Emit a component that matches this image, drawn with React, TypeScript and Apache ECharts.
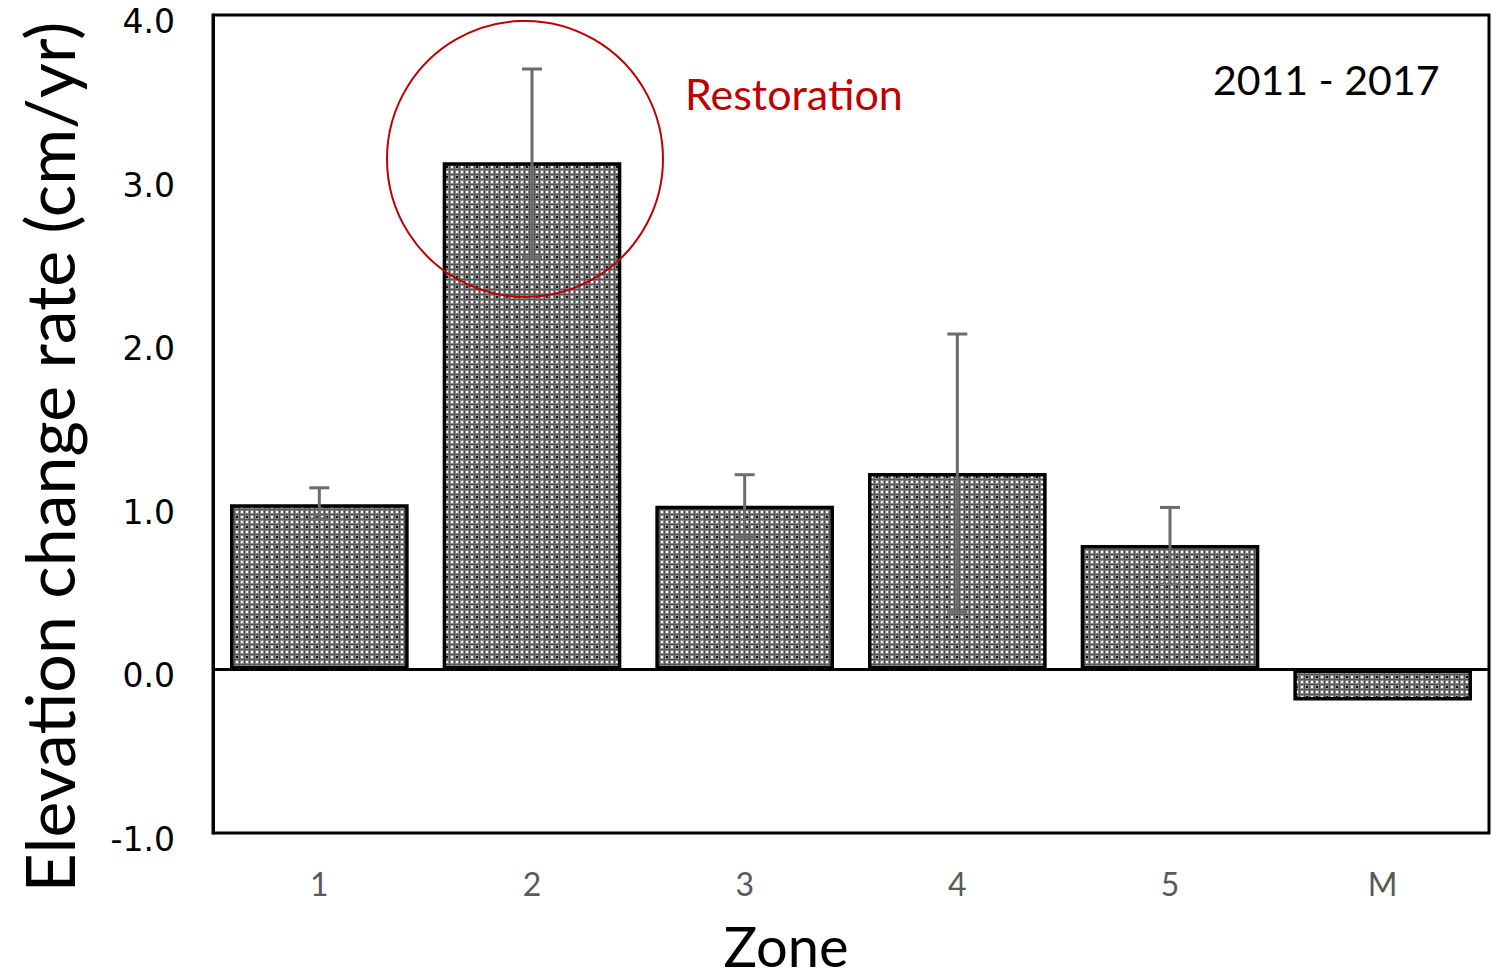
import React, { useEffect, useRef } from "react";
import * as echarts from "echarts";

const zones = ["1", "2", "3", "4", "5", "M"];
const rates = [1.01, 3.1, 1.0, 1.2, 0.76, -0.19];
const errLow: (number | null)[] = [0.92, 2.52, 0.81, 0.35, 0.52, null];
const errHigh: (number | null)[] = [1.11, 3.67, 1.19, 2.05, 0.99, null];
const yMin = -1;
const yMax = 4;
const yInterval = 1;
const circleAnchor = { zone: "2", value: 3.12 };
const yTitle = "Elevation change rate (cm/yr)";
const xTitle = "Zone";
const annotationText = "Restoration";
const periodText = "2011 - 2017";

function makePattern(): HTMLCanvasElement {
  const c = document.createElement("canvas");
  c.width = 10;
  c.height = 10;
  const ctx = c.getContext("2d")!;
  ctx.fillStyle = "#8a8a8a";
  ctx.fillRect(0, 0, 10, 10);
  for (const cy of [0, 5]) {
    for (const cx of [0, 5]) {
      const black = cx === 5 && cy === 5;
      ctx.fillStyle = "#555555";
      ctx.fillRect(cx + 4, cy, 1, 5);
      ctx.fillRect(cx, cy + 4, 5, 1);
      ctx.fillStyle = black ? "#0a0a0a" : "#ffffff";
      ctx.fillRect(cx + 1, cy + 1, 2, 2);
    }
  }
  return c;
}

export default function App() {
  const ref = useRef<HTMLDivElement>(null);
  useEffect(() => {
    document.body.style.margin = "0";
    const chart = echarts.init(ref.current!, null, { renderer: "svg" });
    const pattern = makePattern();
    const errData = zones.map((z, i) => [i, errLow[i], errHigh[i]]);
    chart.setOption({
      animation: false,
      backgroundColor: "#ffffff",
      grid: {
        left: 213,
        top: 15,
        right: 2,
        bottom: 146,
        show: true,
        borderColor: "#000000",
        borderWidth: 3,
        backgroundColor: "transparent",
      },
      xAxis: {
        type: "category",
        data: zones,
        axisLine: { show: false, onZero: false },
        axisTick: { show: false },
        axisLabel: {
          margin: 34,
          color: "#595959",
          fontFamily: "Lato",
          fontSize: 32,
        },
        splitLine: { show: false },
      },
      yAxis: {
        type: "value",
        min: yMin,
        max: yMax,
        interval: yInterval,
        axisLine: { show: true, lineStyle: { color: "#000", width: 3 } },
        axisTick: { show: false },
        splitLine: { show: false },
        axisLabel: {
          margin: 38,
          color: "#000000",
          fontFamily: "DejaVu Sans",
          fontSize: 33,
          formatter: (v: number) => `{v|${v.toFixed(1)}}`,
          rich: {
            v: {
              fontFamily: "DejaVu Sans",
              fontSize: 33,
              color: "#000000",
              padding: [13, 0, 0, 0],
            },
          },
        },
      },
      series: [
        {
          type: "bar",
          data: rates,
          barWidth: "84%",
          itemStyle: {
            color: { image: pattern, repeat: "repeat" },
            borderColor: "#000000",
            borderWidth: 3.5,
          },
          markLine: {
            silent: true,
            symbol: ["none", "none"],
            label: { show: false },
            lineStyle: { color: "#000000", width: 3, type: "solid" },
            data: [{ yAxis: 0 }],
          },
          z: 2,
        },
        {
          type: "custom",
          data: errData,
          z: 5,
          renderItem: (params: any, api: any) => {
            const lo = api.value(1);
            const hi = api.value(2);
            if (lo == null || hi == null || isNaN(lo) || isNaN(hi)) return null;
            const pLo = api.coord([api.value(0), lo]);
            const pHi = api.coord([api.value(0), hi]);
            const x = pLo[0];
            const hw = 10;
            const style = { stroke: "#6b6b6b", lineWidth: 3 };
            return {
              type: "group",
              children: [
                { type: "line", shape: { x1: x, y1: pLo[1], x2: x, y2: pHi[1] }, style },
                { type: "line", shape: { x1: x - hw, y1: pHi[1], x2: x + hw, y2: pHi[1] }, style },
                { type: "line", shape: { x1: x - hw, y1: pLo[1], x2: x + hw, y2: pLo[1] }, style },
              ],
            };
          },
        },
      ],
    });
    const center = chart.convertToPixel({ seriesIndex: 0 }, [circleAnchor.zone, circleAnchor.value]) as number[];
    chart.setOption({
      graphic: [
        {
          type: "circle",
          shape: { cx: center[0] - 7, cy: center[1], r: 138 },
          style: { fill: "none", stroke: "#c00000", lineWidth: 2 },
          z: 10,
          silent: true,
        },
        {
          type: "text",
          left: 685,
          top: 72,
          style: { text: annotationText, fill: "#c00000", font: "43px Lato" },
          z: 10,
        },
        {
          type: "text",
          left: 1213,
          top: 59,
          style: { text: periodText, fill: "#000000", font: "41px Lato" },
          z: 10,
        },
        {
          type: "text",
          x: 48,
          y: 457,
          rotation: Math.PI / 2,
          style: {
            text: yTitle,
            fill: "#000000",
            font: "68px Lato",
            align: "center",
            verticalAlign: "middle",
          },
          z: 10,
        },
        {
          type: "text",
          x: 786,
          y: 945,
          style: {
            text: xTitle,
            fill: "#000000",
            font: "56px Lato",
            align: "center",
            verticalAlign: "middle",
          },
          z: 10,
        },
      ],
    });
    return () => chart.dispose();
  }, []);
  return (
    <div
      ref={ref}
      style={{ position: "fixed", left: 0, top: 0, width: 1491, height: 979 }}
    />
  );
}
